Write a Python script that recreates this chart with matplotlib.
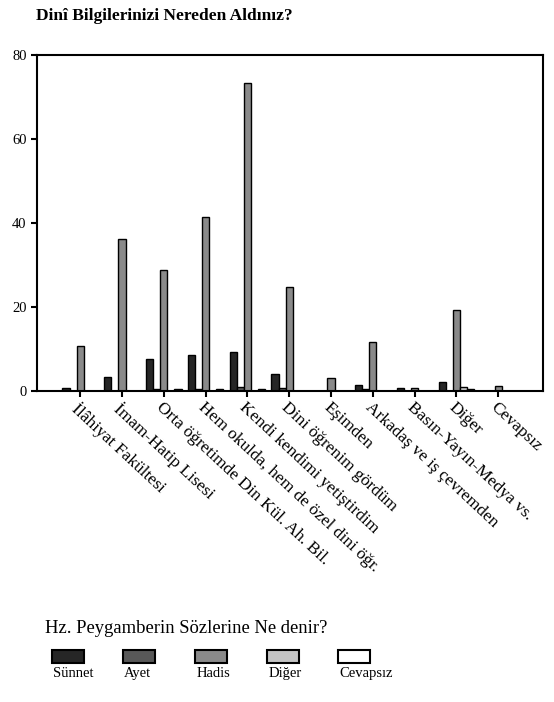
import numpy as np
import matplotlib
matplotlib.use('Agg')
from matplotlib import pyplot as plt
from matplotlib.patches import Rectangle

plt.rcParams['font.family'] = ['Liberation Serif', 'DejaVu Serif']

categories = ['İlâhiyat Fakültesi', 'İmam-Hatip Lisesi', 'Orta öğretimde Din Kül. Ah. Bil.',
              'Hem okulda, hem de özel dini öğr.', 'Kendi kendimi yetiştirdim',
              'Dini öğrenim gördüm', 'Eşimden', 'Arkadaş ve iş çevremden',
              'Basın-Yayın-Medya vs.', 'Diğer', 'Cevapsız']
sunnet   = [0.6, 3.4, 7.7, 8.5, 9.3, 4.1, 0, 1.4, 0.8, 2.2, 0]
ayet     = [0, 0, 0.5, 0.5, 1.0, 0.7, 0, 0.5, 0, 0, 0]
hadis    = [10.8, 36.2, 28.8, 41.5, 73.2, 24.8, 3.2, 11.7, 0.8, 19.3, 1.2]
diger    = [0, 0, 0, 0, 0, 0, 0, 0, 0, 1.0, 0]
cevapsiz = [0, 0, 0.5, 0.5, 0.5, 0, 0, 0, 0, 0.5, 0]
series_names = ['Sünnet', 'Ayet', 'Hadis', 'Diğer', 'Cevapsız']
series_colors = ['#262626', '#585858', '#8a8a8a', '#c4c4c4', '#ffffff']
yticks = [0, 20, 40, 60, 80]

fig = plt.figure(figsize=(5.54, 7.02), dpi=100)
ax = fig.add_axes([0.067, 0.443, 0.913, 0.479])

x = np.arange(len(categories))
w = 0.17
all_series = [sunnet, ayet, hadis, diger, cevapsiz]
for i, (vals, col) in enumerate(zip(all_series, series_colors)):
    v = np.array(vals)
    mask = v > 0
    ax.bar(x[mask] + (i - 2) * w, v[mask], width=w, color=col,
           edgecolor='black', linewidth=1.0)

ax.set_xlim(-1.03, 11.07)
ax.set_ylim(0, 80)
ax.set_yticks(yticks)
ax.set_yticklabels([str(t) for t in yticks], fontsize=10.5)
ax.set_xticks(x)
ax.set_xticklabels(categories, rotation=-43, ha='left', va='top',
                   rotation_mode='anchor', fontsize=12.5)
ax.tick_params(axis='both', direction='out', length=4, width=1.5)
ax.tick_params(axis='x', pad=2)
for s in ax.spines.values():
    s.set_linewidth(1.5)

fig.text(0.065, 0.977, 'Dinî Bilgilerinizi Nereden Aldınız?', fontsize=12.5,
         fontweight='bold', va='center')

# legend below chart
fig.text(0.081, 0.105, 'Hz. Peygamberin Sözlerine Ne denir?', fontsize=13.4, va='center')
lx = [0.094, 0.222, 0.352, 0.482, 0.610]
for name, col, px in zip(series_names, series_colors, lx):
    fig.patches.append(Rectangle((px, 0.0556), 0.058, 0.0185, transform=fig.transFigure,
                                 facecolor=col, edgecolor='black', linewidth=1.5))
    fig.text(px + 0.002, 0.040, name, fontsize=10.5, ha='left', va='center')

plt.savefig('out.png', dpi=100)
